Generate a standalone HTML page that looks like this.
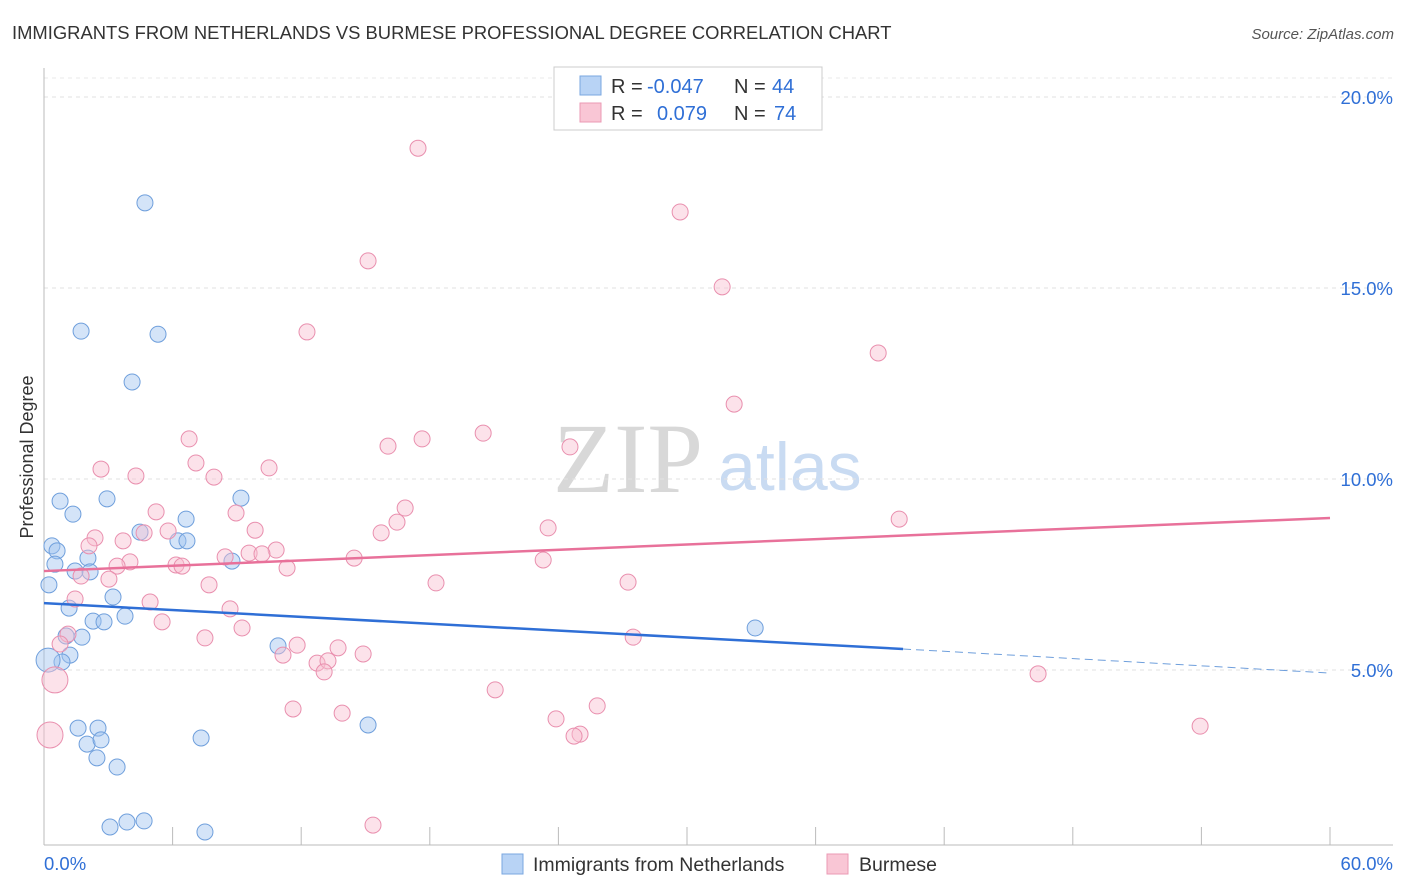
<!DOCTYPE html>
<html><head><meta charset="utf-8"><style>
body{margin:0;background:#fff;font-family:"Liberation Sans",sans-serif;}
svg{display:block}
</style></head><body>
<svg id="chart" width="1406" height="892">
<text x="12" y="39" font-size="18.4" fill="#333">IMMIGRANTS FROM NETHERLANDS VS BURMESE PROFESSIONAL DEGREE CORRELATION CHART</text>
<text x="1394" y="39" font-size="15" fill="#555" font-style="italic" text-anchor="end">Source: ZipAtlas.com</text>
<g>
<text x="553" y="492" font-size="100" font-family="Liberation Serif,serif" fill="#d8d8d8">ZIP</text>
<text x="718" y="490" font-size="68" fill="#c9dbf2">atlas</text>
</g>
<g id="grid"></g>
<g id="axes"></g>
<g id="pts"></g>
<g id="lines"></g>
<text transform="translate(33,457) rotate(-90)" font-size="18" fill="#333" text-anchor="middle">Professional Degree</text>
<g>
<rect x="554" y="67" width="268" height="63" fill="#fff" stroke="#ccc"/>
<rect x="580" y="76" width="21" height="19" fill="#b8d3f5" stroke="#7aa7e0"/>
<rect x="580" y="103" width="21" height="19" fill="#f9c6d5" stroke="#eb9ab4"/>
<text x="611" y="93" font-size="20" fill="#333">R = <tspan fill="#2f6fd6" x="647">-0.047</tspan></text>
<text x="734" y="93" font-size="20" fill="#333">N = <tspan fill="#2f6fd6" x="772">44</tspan></text>
<text x="611" y="120" font-size="20" fill="#333">R = <tspan fill="#2f6fd6" x="657">0.079</tspan></text>
<text x="734" y="120" font-size="20" fill="#333">N = <tspan fill="#2f6fd6" x="774">74</tspan></text>
</g>
<g>
<rect x="502" y="854" width="21" height="20" fill="#b8d3f5" stroke="#7aa7e0"/>
<text x="533" y="871" font-size="19.5" fill="#333">Immigrants from Netherlands</text>
<rect x="827" y="854" width="21" height="20" fill="#f9c6d5" stroke="#eb9ab4"/>
<text x="859" y="871" font-size="19.5" fill="#333">Burmese</text>
</g>
</svg>
<script>
const yTicks=[5,10,15,20];
const yTickLabels=["5.0%","10.0%","15.0%","20.0%"];
const xEndLabels=["0.0%","60.0%"];
const blueX=[4.71,1.73,5.32,4.11,0.75,2.94,9.19,1.35,6.63,4.48,6.25,6.67,0.37,0.61,2.05,8.77,0.51,1.45,2.15,0.23,3.22,1.17,3.78,2.29,2.80,1.77,1.03,33.18,10.92,1.21,0.84,0.19,1.59,2.52,2.01,2.66,7.33,15.12,2.47,3.41,3.08,3.87,4.67,7.51];
const blueY=[17.23,13.87,13.79,12.54,9.42,9.48,9.50,9.08,8.95,8.61,8.38,8.38,8.25,8.12,7.93,7.85,7.77,7.59,7.57,7.23,6.91,6.62,6.41,6.28,6.26,5.86,5.89,6.10,5.63,5.39,5.21,5.26,3.48,3.48,3.06,3.17,3.22,3.56,2.70,2.46,0.89,1.02,1.05,0.76];
const blueSize=[1,1,1,1,1,1,1,1,1,1,1,1,1,1,1,1,1,1,1,1,1,1,1,1,1,1,1,1,1,1,1,2,1,1,1,1,1,1,1,1,1,1,1,1];
const pinkX=[17.45,29.68,15.12,31.64,12.27,38.92,32.20,6.77,16.05,17.64,20.49,24.54,2.66,7.09,10.50,4.29,7.93,5.23,8.96,16.85,16.47,23.52,39.90,9.85,5.79,4.67,15.73,2.38,3.69,2.10,8.45,9.57,10.83,10.17,14.47,23.29,4.01,3.41,6.16,6.44,11.34,3.03,1.73,7.70,18.29,27.25,1.45,4.95,8.68,5.51,9.24,1.12,7.51,27.49,11.81,0.75,13.72,14.89,11.15,12.74,13.25,13.07,0.51,46.38,21.05,11.62,13.91,25.81,23.89,25.01,24.73,53.94,0.28,15.35];
const pinkY=[18.66,16.99,15.71,15.03,13.85,13.30,11.96,11.05,10.86,11.05,11.20,10.84,10.26,10.42,10.29,10.08,10.05,9.14,9.11,9.24,8.87,8.72,8.95,8.66,8.64,8.59,8.59,8.46,8.38,8.25,7.96,8.06,8.14,8.04,7.93,7.88,7.83,7.72,7.75,7.72,7.67,7.38,7.46,7.23,7.28,7.30,6.86,6.78,6.60,6.26,6.10,5.94,5.84,5.86,5.65,5.68,5.58,5.42,5.39,5.18,5.24,4.95,4.74,4.90,4.48,3.98,3.87,4.06,3.72,3.32,3.27,3.53,3.30,0.94];
const pinkSize=[1,1,1,1,1,1,1,1,1,1,1,1,1,1,1,1,1,1,1,1,1,1,1,1,1,1,1,1,1,1,1,1,1,1,1,1,1,1,1,1,1,1,1,1,1,1,1,1,1,1,1,1,1,1,1,1,1,1,1,1,1,1,2,1,1,1,1,1,1,1,1,1,2,1];
const blueTrend=[6.75,5.55,4.92];
const blueTrendX=[0,40.08,60];
const pinkTrend=[7.59,8.98];
const pinkTrendX=[0,60];

const NS="http://www.w3.org/2000/svg";
const sx=v=>44+v/60*1286;
const sy=v=>861-v*38.2;
function mk(tag,attrs,parent){const e=document.createElementNS(NS,tag);for(const k in attrs)e.setAttribute(k,attrs[k]);document.getElementById(parent).appendChild(e);return e;}
yTicks.forEach((t,i)=>{
 const l=mk('line',{x1:44,x2:1393,y1:sy(t),y2:sy(t),stroke:'#e2e2e2','stroke-dasharray':'4,4'},'grid');
 
 
 const tx=mk('text',{x:1393,y:sy(t)+7,'font-size':18.5,fill:'#2f6fd6','text-anchor':'end'},'grid');
 tx.textContent=yTickLabels[i];
 
 
});
const topLine=mk('line',{x1:44,x2:1393,y1:78,y2:78,stroke:'#e8e8e8','stroke-dasharray':'4,4'},'grid');


const ya=mk('line',{x1:44,x2:44,y1:68,y2:845,stroke:'#bbb'},'axes');


const xa=mk('line',{x1:44,x2:1393,y1:845,y2:845,stroke:'#bbb'},'axes');


for(let v=6;v<=60;v+=6){
 const t=mk('line',{x1:sx(v),x2:sx(v),y1:827,y2:845,stroke:'#bbb'},'axes');
 
 
}
const xl0=mk('text',{x:44,y:870,'font-size':18.5,fill:'#2f6fd6'},'axes');xl0.textContent=xEndLabels[0];


const xl1=mk('text',{x:1393,y:870,'font-size':18.5,fill:'#2f6fd6','text-anchor':'end'},'axes');xl1.textContent=xEndLabels[1];


blueX.forEach((x,i)=>{
 const c=mk('circle',{cx:sx(x),cy:sy(blueY[i]),r:blueSize[i]>1?12:8,fill:'rgba(160,196,240,0.45)',stroke:'#6f9fdc','stroke-width':1},'pts');
 
 
});
pinkX.forEach((x,i)=>{
 const c=mk('circle',{cx:sx(x),cy:sy(pinkY[i]),r:pinkSize[i]>1?13:8,fill:'rgba(248,190,208,0.45)',stroke:'#e98fae','stroke-width':1},'pts');
 
 
});
const bl=mk('line',{x1:sx(blueTrendX[0]),y1:sy(blueTrend[0]),x2:sx(blueTrendX[1]),y2:sy(blueTrend[1]),stroke:'#2f6fd6','stroke-width':2.5},'lines');


const bd=mk('line',{x1:sx(blueTrendX[1]),y1:sy(blueTrend[1]),x2:sx(blueTrendX[2]),y2:sy(blueTrend[2]),stroke:'#6f9fdc','stroke-width':1,'stroke-dasharray':'8,5'},'lines');


const pl=mk('line',{x1:sx(pinkTrendX[0]),y1:sy(pinkTrend[0]),x2:sx(pinkTrendX[1]),y2:sy(pinkTrend[1]),stroke:'#e8719a','stroke-width':2.5},'lines');


</script>
</body></html>
